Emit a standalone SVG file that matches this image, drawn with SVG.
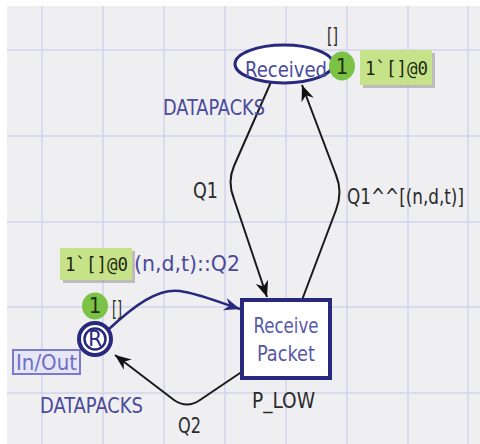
<svg xmlns="http://www.w3.org/2000/svg" width="480" height="444" viewBox="0 0 480 444">
<defs>
<style>
.grid{stroke:#d3d3ec;stroke-width:1.5}
.lbl{font-family:"DejaVu Sans Condensed","DejaVu Sans",sans-serif;font-size:22px}
.blue{fill:#4a4a9c}
.dark{fill:#2a2a2a}
.mono{font-family:"DejaVu Sans Mono",monospace;font-size:19px;fill:#1e2a10}
.arc{fill:none;stroke:#1a1a1a;stroke-width:2}
.arcb{fill:none;stroke:#28287e;stroke-width:2.5}
.tok{fill:#7cc246}
.mark{fill:#c6e38a}
.shadow{fill:#9a9a9a;opacity:0.6}
</style>
<marker id="ah" viewBox="-17 -7 18 14" refX="0" refY="0" markerWidth="18" markerHeight="14" markerUnits="userSpaceOnUse" orient="auto">
<path d="M0,0 L-16,-6.5 L-11,0 L-16,6.5 Z" fill="#111"/>
</marker>
<marker id="ahb" viewBox="-17 -7 18 14" refX="0" refY="0" markerWidth="18" markerHeight="14" markerUnits="userSpaceOnUse" orient="auto">
<path d="M0,0 L-16,-6.5 L-11,0 L-16,6.5 Z" fill="#28287e"/>
</marker>
</defs>
<rect x="0" y="0" width="480" height="444" fill="#ffffff"/>
<rect x="7" y="6" width="473" height="438" fill="#efeff1"/>
<g id="grid">
<line class="grid" x1="42" y1="6" x2="42" y2="444"/>
<line class="grid" x1="103" y1="6" x2="103" y2="444"/>
<line class="grid" x1="164" y1="6" x2="164" y2="444"/>
<line class="grid" x1="225" y1="6" x2="225" y2="444"/>
<line class="grid" x1="286" y1="6" x2="286" y2="444"/>
<line class="grid" x1="347" y1="6" x2="347" y2="444"/>
<line class="grid" x1="408" y1="6" x2="408" y2="444"/>
<line class="grid" x1="468" y1="6" x2="468" y2="444"/>
<line class="grid" x1="7" y1="50" x2="480" y2="50"/>
<line class="grid" x1="7" y1="136" x2="480" y2="136"/>
<line class="grid" x1="7" y1="222" x2="480" y2="222"/>
<line class="grid" x1="7" y1="307" x2="480" y2="307"/>
<line class="grid" x1="7" y1="393" x2="480" y2="393"/>
</g>
<g id="connectors">
<path class="arc" d="M271 82 L234 166 Q227 182 234 199 L267 297" marker-end="url(#ah)"/>
<path class="arc" d="M302 300 L336 210 Q343 192 336 175 L302 85" marker-end="url(#ah)"/>
<path class="arcb" d="M109 329 C135 305 158 288 180 291 C200 294 218 302 240 309" marker-end="url(#ahb)"/>
<path class="arc" d="M243 371 L200 400 Q187 409 174 400 L115 355" marker-end="url(#ah)"/>
<text class="lbl dark" x="193" y="198" textLength="25" lengthAdjust="spacingAndGlyphs">Q1</text>
<text class="lbl dark" x="347" y="204" font-size="19" textLength="117" lengthAdjust="spacingAndGlyphs">Q1^^[(n,d,t)]</text>
<text class="lbl blue" x="134" y="271" textLength="106" lengthAdjust="spacingAndGlyphs">(n,d,t)::Q2</text>
<text class="lbl dark" x="178" y="433" textLength="23" lengthAdjust="spacingAndGlyphs">Q2</text>
</g>
<g id="place-received">
<ellipse cx="284" cy="64" rx="49" ry="19" fill="#ffffff" stroke="#28287e" stroke-width="3"/>
<text class="lbl blue" x="245" y="77" font-size="24" textLength="82" lengthAdjust="spacingAndGlyphs">Received</text>
<text class="lbl dark" x="327" y="43" font-size="24" textLength="11" lengthAdjust="spacingAndGlyphs">[]</text>
<text class="lbl blue" x="163" y="115" textLength="102" lengthAdjust="spacingAndGlyphs">DATAPACKS</text>
<ellipse class="tok" cx="342" cy="66" rx="13" ry="14.5"/>
<text class="lbl" x="342" y="74" font-size="20" text-anchor="middle" fill="#1e3010">1</text>
<rect class="shadow" x="363" y="53" width="72" height="35"/>
<rect class="mark" x="360" y="50" width="72" height="35"/>
<text class="mono" x="365" y="75" textLength="63" lengthAdjust="spacingAndGlyphs">1`[]@0</text>
</g>
<g id="transition-receive-packet">
<rect x="242" y="300" width="88" height="78" fill="#ffffff" stroke="#28287e" stroke-width="4"/>
<text class="lbl" x="286" y="333" text-anchor="middle" fill="#5858a8" textLength="65" lengthAdjust="spacingAndGlyphs">Receive</text>
<text class="lbl" x="286" y="361" text-anchor="middle" fill="#5858a8" textLength="58" lengthAdjust="spacingAndGlyphs">Packet</text>
<text class="lbl dark" x="252" y="408" textLength="63" lengthAdjust="spacingAndGlyphs">P_LOW</text>
</g>
<g id="place-inout">
<rect x="13" y="350" width="67" height="24" fill="#e6e6f6" stroke="#7a7ad0" stroke-width="2"/>
<text class="lbl" x="16" y="370" fill="#7070c4" textLength="61" lengthAdjust="spacingAndGlyphs">In/Out</text>
<circle cx="95" cy="339" r="16" fill="#ffffff" stroke="#28287e" stroke-width="4"/>
<circle cx="95" cy="339" r="10.5" fill="none" stroke="#28287e" stroke-width="2.5"/>
<text class="lbl" x="95" y="346" font-size="18" text-anchor="middle" fill="#28287e">R</text>
<ellipse class="tok" cx="95" cy="306" rx="13" ry="13.5"/>
<text class="lbl" x="95" y="313" font-size="20" text-anchor="middle" fill="#1e3010">1</text>
<text class="lbl dark" x="112" y="316" font-size="21" textLength="10" lengthAdjust="spacingAndGlyphs">[]</text>
<rect class="shadow" x="63" y="251" width="72" height="32"/>
<rect class="mark" x="60" y="248" width="72" height="32"/>
<text class="mono" x="65" y="271" textLength="63" lengthAdjust="spacingAndGlyphs">1`[]@0</text>
<text class="lbl blue" x="40" y="413" textLength="103" lengthAdjust="spacingAndGlyphs">DATAPACKS</text>
</g>
</svg>
